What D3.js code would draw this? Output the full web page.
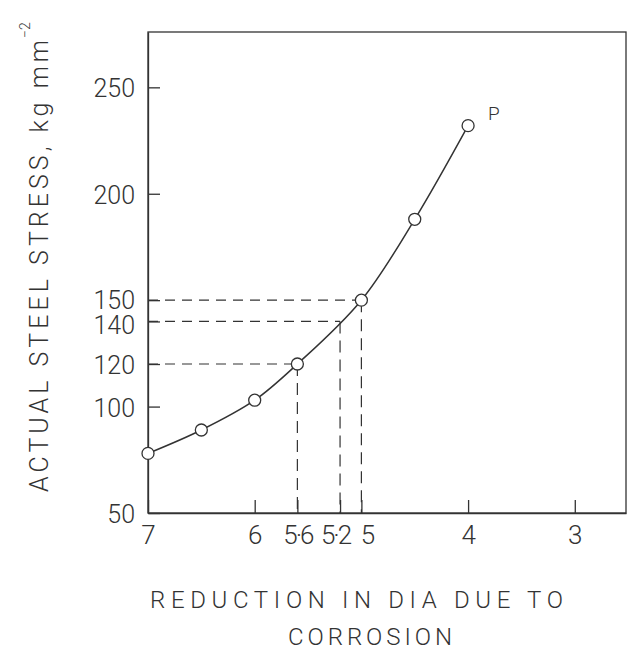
<!DOCTYPE html>
<html>
<head>
<meta charset="utf-8">
<script src="https://cdn.jsdelivr.net/npm/d3@7"></script>
<style>
  html, body { margin: 0; padding: 0; background: #fff; }
  svg { display: block; }
  text { font-family: Roboto, "Liberation Sans", Arial, sans-serif; font-weight: 300; fill: #333; }
</style>
</head>
<body>
<script>
// Reduction in bar diameter (x) against actual steel stress (y)
const reduction = [7, 6.5, 6, 5.6, 5, 4.5, 4];
const stress = [78, 89, 103, 120, 150, 188, 232];

// Read-off guides: stress level and the reduction it corresponds to
const guideStress = [150, 140, 120];
const guideReduction = [5, 5.2, 5.6];

const xTickValues = [7, 6, 5.6, 5.2, 5, 4, 3];
const yTickValues = [50, 100, 120, 140, 150, 200, 250];

const pointLabel = "P";
const xTitleLines = ["REDUCTION IN DIA DUE TO", "CORROSION"];
const yTitle = "ACTUAL STEEL STRESS, kg mm";
const yTitleSup = "\u22122";

const W = 628, H = 651;
const ink = "#333";
const fontStack = "Roboto, Liberation Sans, Arial, sans-serif";

const svg = d3.select("body").append("svg")
  .attr("width", W).attr("height", H);

const x = d3.scaleLinear().domain([7, 2.52]).range([148, 626]);
const y = d3.scaleLinear().domain([50, 276]).range([513, 32]);

// frame
svg.append("rect")
  .attr("x", x(7)).attr("y", y(276))
  .attr("width", x(2.52) - x(7)).attr("height", y(50) - y(276))
  .attr("fill", "none").attr("stroke", ink).attr("stroke-width", 1.3);

const fmt = d => String(d).replace(".", "\u00b7");
// small nudges so crowded labels do not collide
const xLabelNudge = { 5.2: -5, 5: 6 };
const yLabelNudge = { 150: -1, 140: 3 };

function styleTicks(sel) {
  sel.select(".domain").attr("stroke", ink).attr("stroke-width", 1.3);
  sel.selectAll(".tick line").attr("stroke", ink).attr("stroke-width", 1.3);
  sel.selectAll(".tick text")
    .attr("font-size", 25)
    .attr("font-family", fontStack)
    .attr("font-weight", 300)
    .attr("fill", "#333");
}

const xAxis = svg.append("g")
  .attr("transform", `translate(0,${y(50)})`)
  .call(d3.axisBottom(x).tickValues(xTickValues).tickFormat(fmt)
    .tickSize(-13).tickSizeOuter(0).tickPadding(13));
styleTicks(xAxis);
xAxis.selectAll(".tick text")
  .attr("font-size", 26)
  .attr("letter-spacing", d => (String(d).includes(".") ? -2 : 0))
  .attr("dx", d => xLabelNudge[d] || 0);

const yAxis = svg.append("g")
  .attr("transform", `translate(${x(7)},0)`)
  .call(d3.axisLeft(y).tickValues(yTickValues)
    .tickSize(-12).tickSizeOuter(0).tickPadding(13));
styleTicks(yAxis);
yAxis.selectAll(".tick text")
  .attr("dy", "0.38em")
  .attr("y", d => yLabelNudge[d] || 0);

// dashed read-off lines
const guides = guideStress.map((s, i) => ({ s, r: guideReduction[i] }));
const g = svg.append("g").attr("fill", "none").attr("stroke", ink).attr("stroke-width", 1.2);
g.selectAll("line.h").data(guides).join("line").attr("class", "h")
  .attr("x1", x(7)).attr("x2", d => x(d.r))
  .attr("y1", d => y(d.s)).attr("y2", d => y(d.s))
  .attr("stroke-dasharray", "10,7");
g.selectAll("line.v").data(guides).join("line").attr("class", "v")
  .attr("x1", d => x(d.r)).attr("x2", d => x(d.r))
  .attr("y1", d => y(d.s)).attr("y2", y(50))
  .attr("stroke-dasharray", "12,7");

// stress curve
const pts = reduction.map((r, i) => [r, stress[i]]);
const line = d3.line().x(d => x(d[0])).y(d => y(d[1])).curve(d3.curveCatmullRom.alpha(0.5));
svg.append("path").datum(pts)
  .attr("d", line).attr("fill", "none")
  .attr("stroke", ink).attr("stroke-width", 1.5);

svg.selectAll("circle.pt").data(pts).join("circle").attr("class", "pt")
  .attr("cx", d => x(d[0])).attr("cy", d => y(d[1])).attr("r", 6)
  .attr("fill", "#fff").attr("stroke", ink).attr("stroke-width", 1.3);

const last = pts[pts.length - 1];
svg.append("text")
  .attr("x", x(last[0]) + 20).attr("y", y(last[1]) - 6)
  .attr("font-size", 19).text(pointLabel);

// axis titles
svg.append("text")
  .attr("x", 150).attr("y", 608)
  .attr("font-size", 24).attr("textLength", 413).attr("lengthAdjust", "spacing")
  .text(xTitleLines[0]);
svg.append("text")
  .attr("x", 288).attr("y", 645)
  .attr("font-size", 24).attr("textLength", 164).attr("lengthAdjust", "spacing")
  .text(xTitleLines[1]);

svg.append("text")
  .attr("transform", "translate(48,492) rotate(-90)")
  .attr("font-size", 25).attr("textLength", 452).attr("lengthAdjust", "spacing")
  .text(yTitle);
svg.append("text")
  .attr("transform", "translate(30,38) rotate(-90)")
  .attr("font-size", 14)
  .text(yTitleSup);
</script>
</body>
</html>
